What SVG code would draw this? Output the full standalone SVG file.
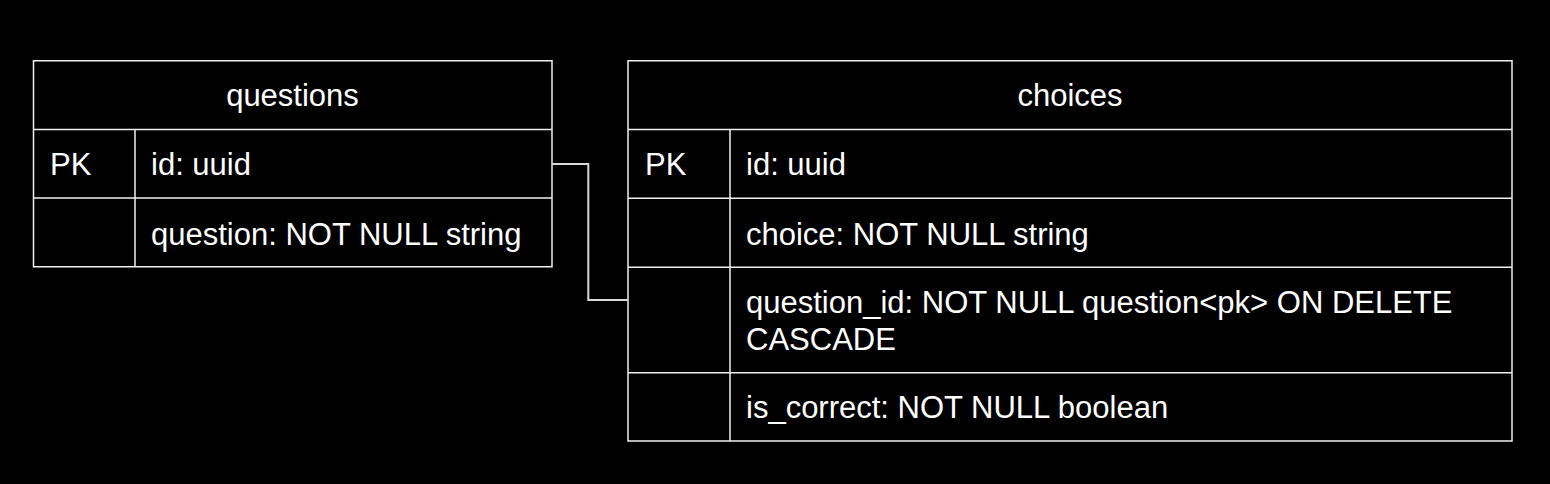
<svg xmlns="http://www.w3.org/2000/svg" width="1550" height="484" viewBox="0 0 1550 484">
<style>
.cell{fill:#000;stroke:#f0f0f0;stroke-width:1.5}
.t{font-family:"Liberation Sans",Arial,sans-serif;font-size:31px;fill:#fff}
.m{text-anchor:middle}
.conn{fill:none;stroke:#d8d8d8;stroke-width:2}
</style>
<rect width="1550" height="484" fill="#000"/>
<g id="questions">
<rect class="cell" x="33.5" y="60.75" width="518.5" height="206"/>
<line class="cell" x1="33.5" y1="129.5" x2="552" y2="129.5"/>
<line class="cell" x1="33.5" y1="198" x2="552" y2="198"/>
<line class="cell" x1="135" y1="129.5" x2="135" y2="266.75"/>
<text class="t m" x="292.5" y="105.5">questions</text>
<text class="t" x="50" y="175">PK</text>
<text class="t" x="151" y="175">id: uuid</text>
<text class="t" x="151" y="244.5">question: NOT NULL string</text>
</g>
<g id="choices">
<rect class="cell" x="628" y="60.75" width="884" height="380.25"/>
<line class="cell" x1="628" y1="129.5" x2="1512" y2="129.5"/>
<line class="cell" x1="628" y1="198.3" x2="1512" y2="198.3"/>
<line class="cell" x1="628" y1="267.3" x2="1512" y2="267.3"/>
<line class="cell" x1="628" y1="372.7" x2="1512" y2="372.7"/>
<line class="cell" x1="730" y1="129.5" x2="730" y2="441"/>
<text class="t m" x="1070" y="105.5">choices</text>
<text class="t" x="645" y="175">PK</text>
<text class="t" x="746" y="175">id: uuid</text>
<text class="t" x="746" y="244.5">choice: NOT NULL string</text>
<text class="t" x="746" y="312.5">question_id: NOT NULL question&lt;pk&gt; ON DELETE</text>
<text class="t" x="746" y="349.5">CASCADE</text>
<text class="t" x="746" y="417.5">is_correct: NOT NULL boolean</text>
</g>
<g id="connectors">
<path class="conn" d="M552 164 H588.3 V300 H628"/>
</g>
</svg>
